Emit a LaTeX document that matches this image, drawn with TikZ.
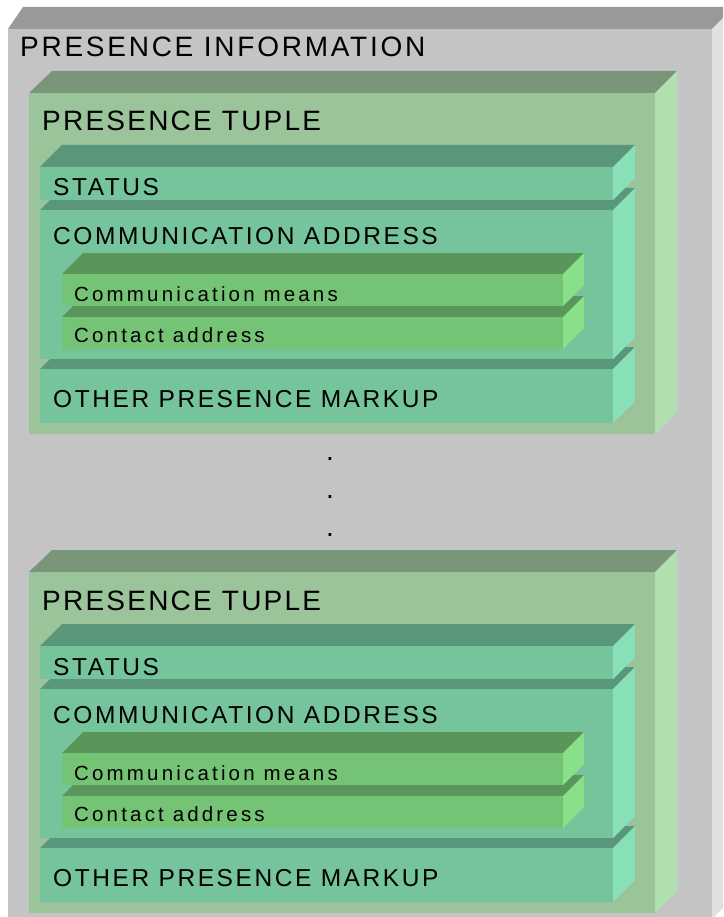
\documentclass[tikz,border=0pt]{standalone}
\usepackage{fontspec}
\setmainfont{Liberation Sans}
\newfontfamily\infof[LetterSpace=9.8]{Liberation Sans}
\newfontfamily\bigf[LetterSpace=8]{Liberation Sans}
\newfontfamily\midf[LetterSpace=10.5]{Liberation Sans}
\newfontfamily\smlf[LetterSpace=15.5]{Liberation Sans}
\definecolor{grfront}{RGB}{196,196,196}
\definecolor{grtop}{RGB}{153,153,153}
\definecolor{grside}{RGB}{224,224,224}
\definecolor{tpfront}{RGB}{155,196,155}
\definecolor{tptop}{RGB}{122,150,122}
\definecolor{tpside}{RGB}{176,224,176}
\definecolor{tlfront}{RGB}{117,196,155}
\definecolor{tltop}{RGB}{90,150,122}
\definecolor{tlside}{RGB}{136,224,184}
\definecolor{gnfront}{RGB}{117,196,117}
\definecolor{gntop}{RGB}{90,150,90}
\definecolor{gnside}{RGB}{136,224,136}
% #1 left, #2 top, #3 right, #4 bottom, #5 left depth, #6 right depth, #7 colour prefix
\newcommand\cuboidbox[7]{%
  \fill[#7top] (#1,#2) -- ({#1+#5},{#2-#6}) -- ({#3+#6},{#2-#6}) -- (#3,#2) -- cycle;
  \fill[#7side] (#3,#2) -- ({#3+#6},{#2-#6}) -- ({#3+#6},{#4-#6}) -- (#3,#4) -- cycle;
  \fill[#7front] (#1,#2) rectangle (#3,#4);
}
\tikzset{
  infotxt/.style={inner sep=0pt, anchor=base west, font=\infof\fontsize{28}{30}\selectfont},
  bigtxt/.style={inner sep=0pt, anchor=base west, font=\bigf\fontsize{28}{30}\selectfont},
  midtxt/.style={inner sep=0pt, anchor=base west, font=\midf\fontsize{24.5}{26}\selectfont},
  smltxt/.style={inner sep=0pt, anchor=base west, font=\smlf\fontsize{20.5}{22}\selectfont},
  dottxt/.style={inner sep=0pt, anchor=base, font=\bigf\fontsize{28}{30}\selectfont}
}
\begin{document}
\begin{tikzpicture}[x=1pt,y=-1pt]
\useasboundingbox (0,0) rectangle (723,917);
\clip (0,0) rectangle (723,917);
% outer presence information box
\cuboidbox{8}{29}{712}{919}{15}{22}{gr}
\node[infotxt] (info) at (20,57) {PRESENCE INFORMATION};
% dots
\node[dottxt] (dot1) at (330,460) {.};
\node[dottxt] (dot2) at (330,498) {.};
\node[dottxt] (dot3) at (330,536) {.};
% two presence tuples
\foreach \off/\nm in {0/a,479/b}{
\begin{scope}[shift={(0,\off)}]
  \cuboidbox{29}{93}{655}{434}{23}{22}{tp}
  \cuboidbox{40}{369}{613}{423}{22}{22}{tl}
  \cuboidbox{40}{210}{613}{359}{22}{22}{tl}
  \cuboidbox{62}{317}{563}{349}{21}{21}{gn}
  \cuboidbox{62}{274}{563}{306}{21}{21}{gn}
  \cuboidbox{40}{167}{613}{200}{22}{22}{tl}
  \node[bigtxt] (tuple\nm) at (42,131) {PRESENCE TUPLE};
  \node[midtxt] (status\nm) at (53,196) {STATUS};
  \node[midtxt] (comm\nm) at (53,244) {COMMUNICATION ADDRESS};
  \node[smltxt] (means\nm) at (74,301) {Communication means};
  \node[smltxt] (contact\nm) at (74,342) {Contact address};
  \node[midtxt] (other\nm) at (53,407) {OTHER PRESENCE MARKUP};
\end{scope}
}
\end{tikzpicture}
\end{document}
